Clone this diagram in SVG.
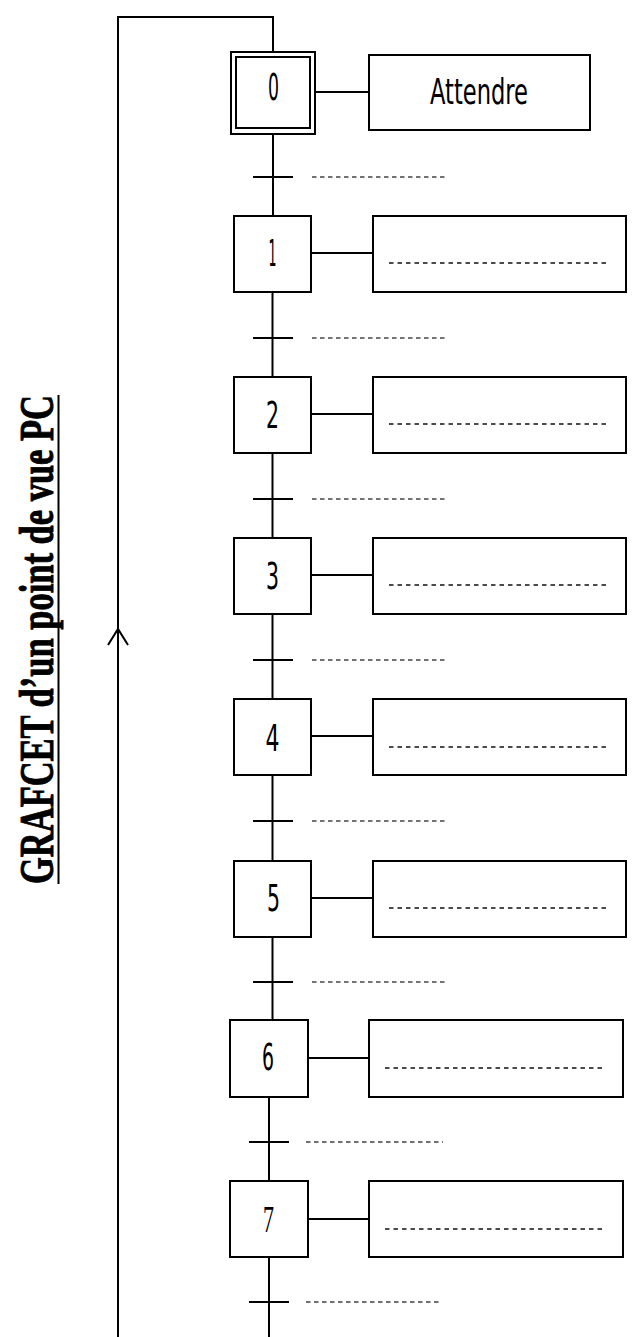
<svg xmlns="http://www.w3.org/2000/svg" width="637" height="1337" viewBox="0 0 637 1337">
<style>
.box{fill:#fff;stroke:#000;stroke-width:2}
.ln{fill:none;stroke:#000;stroke-width:2}
.tr{fill:none;stroke:#000;stroke-width:2.2}
.dt{fill:none;stroke:#444;stroke-width:1.3;stroke-dasharray:4.5 3.5}
.da{fill:none;stroke:#111;stroke-width:1.3;stroke-dasharray:4.5 4}
.num{font-family:"DejaVu Sans Condensed","DejaVu Sans",sans-serif;font-size:38px;fill:#000;text-anchor:middle}
.num7{font-family:"Liberation Serif",serif;font-size:38px;fill:#000;text-anchor:middle}
.act{font-family:"DejaVu Sans Condensed","DejaVu Sans",sans-serif;font-size:36px;fill:#000}
.title{font-family:"Liberation Serif",serif;font-weight:bold;font-size:48px;fill:#000;stroke:#000;stroke-width:0.9;text-anchor:middle}
</style>
<rect width="637" height="1337" fill="#fff"/>

<g id="title">
<text class="title" transform="translate(53,639.5) rotate(-90)" textLength="489" lengthAdjust="spacingAndGlyphs">GRAFCET d’un point de vue PC</text>
<line x1="58.5" y1="395" x2="58.5" y2="884" stroke="#000" stroke-width="2"/>
</g>

<g id="connectors">
<polyline class="ln" points="273,52 273,17 118,17 118,1337"/>
<polyline class="ln" points="108,645 118,629 128,645"/>
<line class="ln" x1="273" y1="134" x2="273" y2="216"/>
<line class="ln" x1="272.5" y1="292" x2="272.5" y2="377"/>
<line class="ln" x1="272.5" y1="453" x2="272.5" y2="538"/>
<line class="ln" x1="272.5" y1="614" x2="272.5" y2="699"/>
<line class="ln" x1="272.5" y1="775" x2="272.5" y2="861"/>
<line class="ln" x1="272.5" y1="937" x2="272.5" y2="1020"/>
<line class="ln" x1="269" y1="1097" x2="269" y2="1181"/>
<line class="ln" x1="269" y1="1257" x2="269" y2="1337"/>
<line class="ln" x1="315" y1="92" x2="369" y2="92"/>
<line class="ln" x1="311" y1="253" x2="373" y2="253"/>
<line class="ln" x1="311" y1="414" x2="373" y2="414"/>
<line class="ln" x1="311" y1="575" x2="373" y2="575"/>
<line class="ln" x1="311" y1="736" x2="373" y2="736"/>
<line class="ln" x1="311" y1="898" x2="373" y2="898"/>
<line class="ln" x1="308" y1="1058" x2="369" y2="1058"/>
<line class="ln" x1="308" y1="1219" x2="369" y2="1219"/>
</g>

<g id="step0">
<rect class="box" x="231" y="52" width="84" height="82" stroke-width="2.4"/>
<rect class="box" x="236" y="57" width="74" height="71" stroke-width="2.4"/>
<text class="num" x="273.5" y="100" font-size="32" textLength="11" lengthAdjust="spacingAndGlyphs">0</text>
</g>
<g id="action0">
<rect class="box" x="369" y="55" width="221" height="75"/>
<text class="act" x="430" y="104" textLength="98" lengthAdjust="spacingAndGlyphs">Attendre</text>
</g>
<g id="t0"><line class="tr" x1="253" y1="177" x2="293" y2="177"/><line class="dt" x1="312" y1="177" x2="447" y2="177"/></g>

<g id="step1"><rect class="box" x="234" y="216" width="77" height="76"/><text class="num" x="272.5" y="266" textLength="8" lengthAdjust="spacingAndGlyphs">1</text></g>
<g id="action1"><rect class="box" x="373" y="216" width="253" height="76"/><line class="da" x1="389" y1="263" x2="609" y2="263"/></g>
<g id="t1"><line class="tr" x1="253" y1="338" x2="293" y2="338"/><line class="dt" x1="312" y1="338" x2="447" y2="338"/></g>

<g id="step2"><rect class="box" x="234" y="377" width="77" height="76"/><text class="num" x="272.5" y="428" textLength="13" lengthAdjust="spacingAndGlyphs">2</text></g>
<g id="action2"><rect class="box" x="373" y="377" width="253" height="76"/><line class="da" x1="389" y1="424" x2="609" y2="424"/></g>
<g id="t2"><line class="tr" x1="253" y1="499" x2="293" y2="499"/><line class="dt" x1="312" y1="499" x2="447" y2="499"/></g>

<g id="step3"><rect class="box" x="234" y="538" width="77" height="76"/><text class="num" x="272.5" y="589" textLength="13" lengthAdjust="spacingAndGlyphs">3</text></g>
<g id="action3"><rect class="box" x="373" y="538" width="253" height="76"/><line class="da" x1="389" y1="585" x2="609" y2="585"/></g>
<g id="t3"><line class="tr" x1="253" y1="660" x2="293" y2="660"/><line class="dt" x1="312" y1="660" x2="447" y2="660"/></g>

<g id="step4"><rect class="box" x="234" y="699" width="77" height="76"/><text class="num" x="272.5" y="751" textLength="14" lengthAdjust="spacingAndGlyphs">4</text></g>
<g id="action4"><rect class="box" x="373" y="699" width="253" height="76"/><line class="da" x1="389" y1="747" x2="609" y2="747"/></g>
<g id="t4"><line class="tr" x1="253" y1="821" x2="293" y2="821"/><line class="dt" x1="312" y1="821" x2="447" y2="821"/></g>

<g id="step5"><rect class="box" x="234" y="861" width="77" height="76"/><text class="num" x="273.5" y="911" textLength="13" lengthAdjust="spacingAndGlyphs">5</text></g>
<g id="action5"><rect class="box" x="373" y="861" width="253" height="76"/><line class="da" x1="389" y1="908" x2="609" y2="908"/></g>
<g id="t5"><line class="tr" x1="253" y1="982" x2="293" y2="982"/><line class="dt" x1="312" y1="982" x2="447" y2="982"/></g>

<g id="step6"><rect class="box" x="230" y="1020" width="78" height="77"/><text class="num" x="268" y="1070" textLength="12" lengthAdjust="spacingAndGlyphs">6</text></g>
<g id="action6"><rect class="box" x="369" y="1020" width="254" height="77"/><line class="da" x1="385" y1="1068" x2="605" y2="1068"/></g>
<g id="t6"><line class="tr" x1="249" y1="1142" x2="289" y2="1142"/><line class="dt" x1="306" y1="1142" x2="443" y2="1142"/></g>

<g id="step7"><rect class="box" x="230" y="1181" width="78" height="76"/><text class="num7" x="268.5" y="1232" textLength="11" lengthAdjust="spacingAndGlyphs">7</text></g>
<g id="action7"><rect class="box" x="369" y="1181" width="254" height="76"/><line class="da" x1="385" y1="1229" x2="605" y2="1229"/></g>
<g id="t7"><line class="tr" x1="249" y1="1302" x2="289" y2="1302"/><line class="dt" x1="306" y1="1302" x2="442" y2="1302"/></g>
</svg>
